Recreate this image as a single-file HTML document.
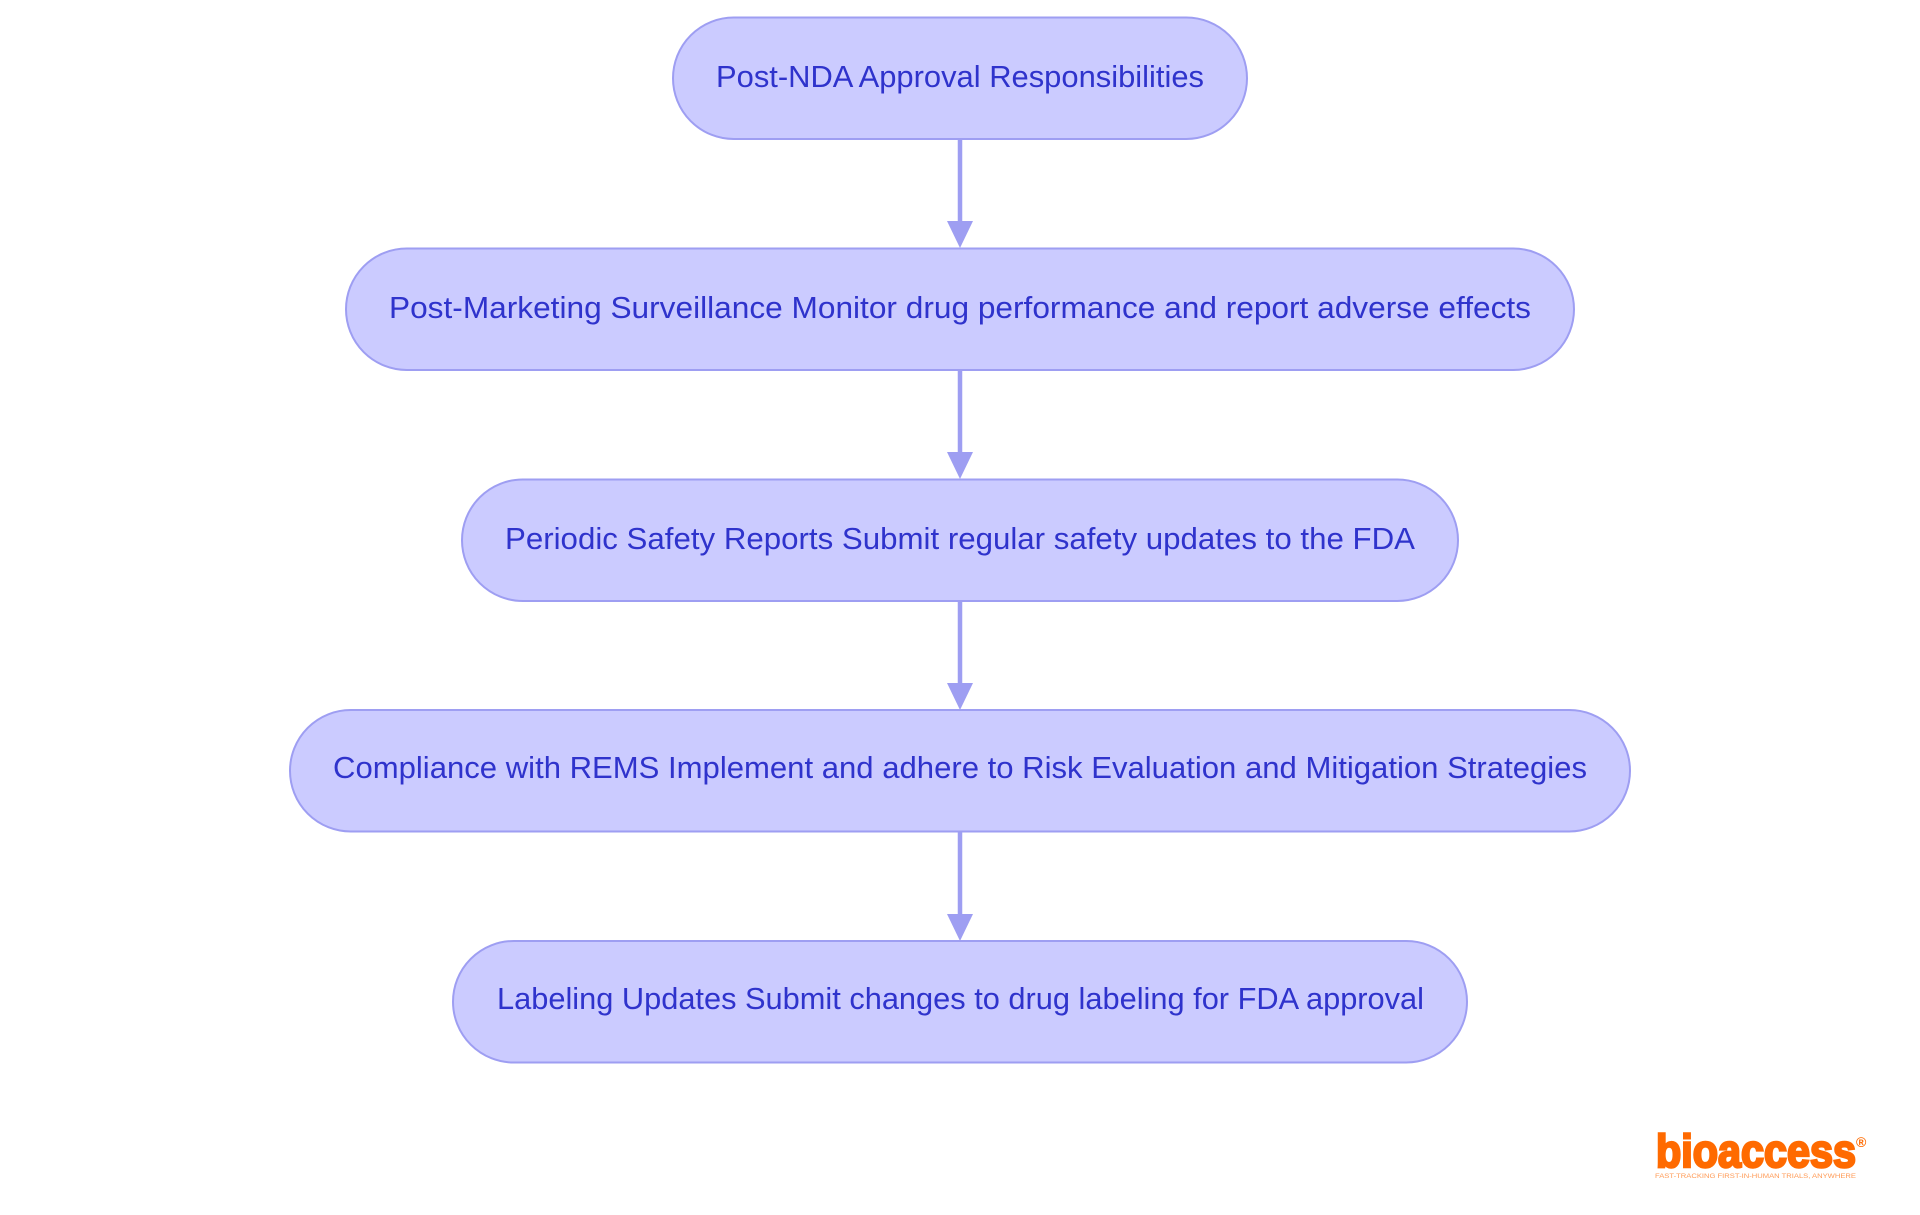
<!DOCTYPE html>
<html><head><meta charset="utf-8"><style>
html,body{margin:0;padding:0;background:#fff}
svg{display:block}
.t{font-family:"Liberation Sans",sans-serif;font-size:31px;fill:#2F33CC}
.n{fill:#CBCBFF;stroke:#9E9EF2;stroke-width:2}
.l{stroke:#9E9EF2;stroke-width:4.5}
.a{fill:#9E9EF2}
</style></head><body>
<svg xmlns="http://www.w3.org/2000/svg" width="1920" height="1215" viewBox="0 0 1920 1215">
<rect width="1920" height="1215" fill="#fff"/>
<rect class="n" x="673" y="17.5" width="574" height="121.5" rx="60.75"/>
<rect class="n" x="346" y="248.5" width="1228" height="121.5" rx="60.75"/>
<rect class="n" x="462" y="479.5" width="996" height="121.5" rx="60.75"/>
<rect class="n" x="290" y="710" width="1340" height="121.5" rx="60.75"/>
<rect class="n" x="453" y="941" width="1014" height="121.5" rx="60.75"/>
<g class="l"><line x1="960" y1="139" x2="960" y2="225"/><line x1="960" y1="370" x2="960" y2="456"/><line x1="960" y1="601" x2="960" y2="687"/><line x1="960" y1="832" x2="960" y2="918"/></g>
<g class="a"><path d="M947 221h26l-13 27z"/><path d="M947 452h26l-13 27z"/><path d="M947 683h26l-13 27z"/><path d="M947 914h26l-13 27z"/></g>
<text class="t" x="716" y="87" textLength="488" lengthAdjust="spacingAndGlyphs">Post-NDA Approval Responsibilities</text>
<text class="t" x="389" y="318" textLength="1142" lengthAdjust="spacingAndGlyphs">Post-Marketing Surveillance Monitor drug performance and report adverse effects</text>
<text class="t" x="505" y="549" textLength="910" lengthAdjust="spacingAndGlyphs">Periodic Safety Reports Submit regular safety updates to the FDA</text>
<text class="t" x="333" y="778" textLength="1254" lengthAdjust="spacingAndGlyphs">Compliance with REMS Implement and adhere to Risk Evaluation and Mitigation Strategies</text>
<text class="t" x="497" y="1009" textLength="927" lengthAdjust="spacingAndGlyphs">Labeling Updates Submit changes to drug labeling for FDA approval</text>
<text x="1656" y="1167" textLength="200" lengthAdjust="spacingAndGlyphs" style="font-family:'Liberation Sans',sans-serif;font-weight:700;font-size:46px;fill:#FF6A00;stroke:#FF6A00;stroke-width:2.5">bioaccess</text>
<text x="1856" y="1147" style="font-family:'Liberation Sans',sans-serif;font-weight:700;font-size:14px;fill:#FF6A00">®</text>
<text x="1655" y="1178" textLength="201" lengthAdjust="spacingAndGlyphs" style="font-family:'Liberation Sans',sans-serif;font-size:6px;fill:#FF9A55">FAST-TRACKING FIRST-IN-HUMAN TRIALS, ANYWHERE</text>
</svg>
</body></html>
